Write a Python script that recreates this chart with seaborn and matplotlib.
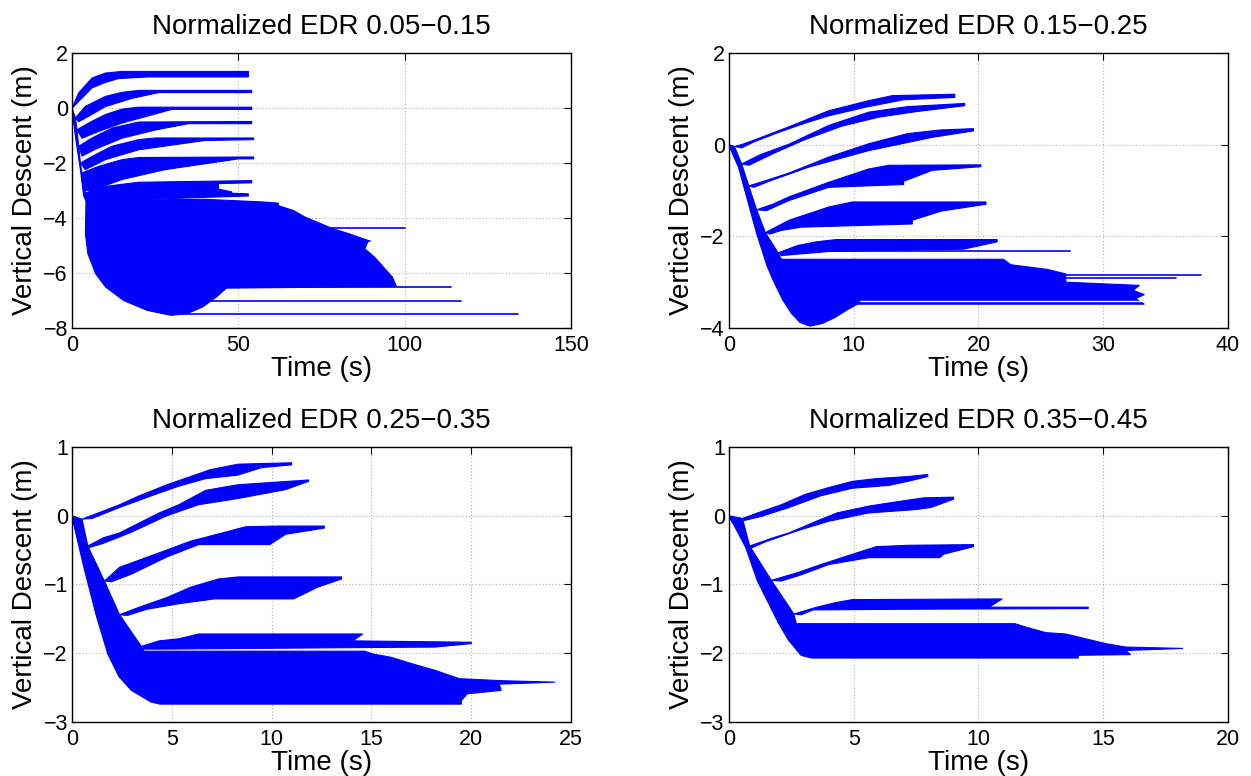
import numpy as np
import pandas as pd
import matplotlib
matplotlib.use("Agg")
import matplotlib.pyplot as plt
import seaborn as sns

# ---------------- data ----------------
TITLES = ["Normalized EDR 0.05\u22120.15", "Normalized EDR 0.15\u22120.25",
          "Normalized EDR 0.25\u22120.35", "Normalized EDR 0.35\u22120.45"]
XLIMS = [(0, 150), (0, 40), (0, 25), (0, 20)]
YLIMS = [(-8, 2), (-4, 2), (-3, 1), (-3, 1)]
XTICKS = [[0, 50, 100, 150], [0, 10, 20, 30, 40], [0, 5, 10, 15, 20, 25], [0, 5, 10, 15, 20]]
YTICKS = [[-8, -6, -4, -2, 0, 2], [-4, -2, 0, 2], [-3, -2, -1, 0, 1], [-3, -2, -1, 0, 1]]

# Panel 1 (EDR 0.05-0.15): outlines of trajectory bundles (time s, descent m)
TL_DESCENT = [(0, 0), (1, -0.36), (1.5, -0.79), (2, -1.39), (2.5, -2.0), (3, -2.36), (4, -3.09),
              (4.3, -3.4), (3.5, -3.2), (2.5, -2.24), (1, -1.03), (0, -0.05)]
TL_B1 = [(0, 0), (2, 0.55), (6, 1.09), (10, 1.27), (15, 1.33), (53, 1.33), (53, 1.13),
         (23, 1.13), (14, 1.07), (10, 0.93), (6, 0.73), (2, 0.24), (0.5, 0.05)]
TL_B2 = [(1, -0.36), (4, 0.06), (10, 0.42), (15, 0.57), (20, 0.64), (54, 0.64), (54, 0.56),
         (26, 0.56), (18, 0.35), (10, 0.05), (5, -0.3), (2, -0.5)]
TL_B3 = [(1.5, -0.79), (6, -0.48), (10, -0.24), (15, -0.04), (20, 0.03), (54, 0.03), (54, -0.05),
         (30, -0.05), (24, -0.25), (15, -0.55), (8, -0.85), (3, -1.1)]
TL_B4 = [(2, -1.39), (6, -1.09), (12, -0.73), (20, -0.51), (54, -0.49), (54, -0.57), (35, -0.57),
         (25, -0.8), (15, -1.1), (7, -1.5), (3, -1.75)]
TL_B5 = [(2.5, -2.0), (6, -1.76), (12, -1.39), (20, -1.15), (25, -1.09), (54.6, -1.09), (54.6, -1.15),
         (40, -1.18), (20, -1.52), (10, -1.88), (4, -2.24)]
TL_B6 = [(3, -2.36), (8, -2.12), (15, -1.88), (20, -1.8), (54.6, -1.78), (54.6, -1.85), (50, -1.85),
         (28, -2.24), (15, -2.6), (6, -3.0), (3.5, -3.0)]
TL_B7 = [(4, -3.09), (10, -2.85), (20, -2.7), (54, -2.64), (54, -2.72), (44, -2.75), (44, -2.95),
         (48, -3.05), (48, -3.1), (53, -3.12), (53, -3.2), (40, -3.25), (4.3, -3.4)]
TL_BLOB = [(4.2, -3.36), (40, -3.32), (58, -3.42), (62, -3.46), (62, -3.55), (66.6, -3.73), (70.1, -3.97),
           (73.7, -4.15), (78.4, -4.39), (83.2, -4.57), (89.1, -4.82), (88, -5.12), (90.9, -5.42),
           (92.7, -5.66), (94.5, -5.91), (96.3, -6.15), (97.5, -6.49), (46.4, -6.55), (43.4, -6.87),
           (39.2, -7.24), (34.5, -7.48), (29.7, -7.54), (22.6, -7.36), (15.5, -7.0), (10.1, -6.51),
           (7.1, -6.03), (4.75, -5.3), (4.0, -4.55)]
TL_TAILS = [[(68, -4.35), (100, -4.35)], [(80, -4.85), (89.7, -4.85)], [(46, -6.5), (114, -6.5)],
            [(40, -7.0), (117, -7.0)], [(33, -7.5), (134, -7.5)]]

# Panel 2 (EDR 0.15-0.25)
TR_DESCENT = [(0, 0), (0.44, -0.04), (1.02, -0.42), (1.59, -0.9), (2.22, -1.42), (2.92, -1.92),
              (3.94, -2.36), (4.2, -2.5), (4.35, -3.4), (3.08, -2.67), (2.22, -1.94), (0.76, -0.49), (0, -0.02)]
TR_B1 = [(0.44, -0.04), (1.0, 0.0), (2.5, 0.15), (4.8, 0.39), (8, 0.74), (11.2, 0.96), (13.1, 1.07),
         (18.1, 1.1), (18.1, 1.03), (14, 0.98), (11, 0.82), (8, 0.63), (6, 0.46), (4, 0.27), (2, 0.06), (1.02, -0.07)]
TR_B2 = [(1.02, -0.42), (2.5, -0.22), (4.8, 0.01), (8, 0.42), (11.2, 0.71), (14.3, 0.83), (18.9, 0.9),
         (18.9, 0.85), (15, 0.72), (12, 0.6), (9, 0.4), (6, 0.1), (3.5, -0.2), (1.6, -0.45)]
TR_B3 = [(1.59, -0.9), (3, -0.78), (4.8, -0.62), (8, -0.27), (11.2, 0.02), (14.3, 0.24), (16.9, 0.32),
         (19.6, 0.35), (19.6, 0.3), (16.3, 0.16), (11.2, -0.13), (6.4, -0.49), (3.2, -0.8), (2.0, -0.93)]
TR_B4 = [(2.22, -1.42), (3.5, -1.3), (4.8, -1.14), (8, -0.82), (11.2, -0.53), (12.8, -0.45), (20.2, -0.44),
         (20.2, -0.48), (16.3, -0.56), (14, -0.8), (14, -0.87), (8, -0.93), (4.8, -1.22), (3, -1.44)]
TR_B5 = [(2.92, -1.92), (4.8, -1.65), (8, -1.36), (9.9, -1.25), (20.6, -1.25), (20.6, -1.3), (17, -1.45),
         (14.7, -1.65), (14.7, -1.73), (5.8, -1.8), (4.2, -1.87), (3.3, -1.95)]
TR_B6 = [(3.94, -2.36), (5.5, -2.2), (7, -2.12), (8.6, -2.07), (21.5, -2.07), (21.5, -2.12),
         (18.8, -2.28), (8, -2.33), (4.2, -2.42)]
TR_BIG = [(4.0, -2.5), (22, -2.5), (22.6, -2.62), (25.5, -2.72), (27, -2.82), (27, -3.0), (32.9, -3.07),
          (32.4, -3.18), (33.3, -3.27), (32.6, -3.36), (33.3, -3.48), (10.3, -3.48), (9.5, -3.6),
          (8.5, -3.77), (7.5, -3.9), (6.5, -3.96), (5.7, -3.88), (5.0, -3.68), (4.35, -3.4),
          (3.7, -3.05), (3.3, -2.8)]
TR_TAILS = [[(6, -2.33), (27.3, -2.33)], [(25, -2.85), (37.8, -2.85)], [(25, -2.9), (35.8, -2.9)]]
TR_GAPS = [[(10.5, -3.42), (33, -3.42)]]

# Panel 3 (EDR 0.25-0.35)
BL_DESCENT = [(0, 0), (0.5, -0.05), (0.79, -0.44), (1.62, -0.95), (2.38, -1.44), (3.47, -1.9), (3.6, -1.97),
              (2.38, -2.35), (1.78, -2.0), (1.19, -1.43), (0.59, -0.75), (0.2, -0.27), (0, -0.02)]
BL_B1 = [(0.5, -0.05), (1.58, 0.07), (2.38, 0.16), (3.37, 0.29), (4.75, 0.45), (5.94, 0.57), (6.93, 0.67),
         (8.32, 0.75), (11, 0.77), (11, 0.74), (9.5, 0.70), (8.3, 0.59), (6.7, 0.54), (5.35, 0.43),
         (4.36, 0.33), (2.38, 0.12), (1, -0.04)]
BL_B2 = [(0.79, -0.44), (1.58, -0.32), (2.38, -0.25), (4.36, 0.04), (5.35, 0.16), (6.7, 0.37), (8.3, 0.45),
         (10.3, 0.49), (11.85, 0.52), (11.85, 0.5), (10.7, 0.38), (8.3, 0.25), (6.34, 0.16), (4.75, 0.0),
         (2.97, -0.24), (1.58, -0.4), (0.9, -0.46)]
BL_B3 = [(1.62, -0.95), (2.38, -0.75), (4.36, -0.54), (5.94, -0.37), (7.53, -0.25), (8.7, -0.16),
         (10.3, -0.15), (12.64, -0.15), (12.64, -0.18), (10.7, -0.27), (9.9, -0.42), (6.34, -0.42),
         (4.75, -0.6), (2.97, -0.85), (1.98, -0.96)]
BL_B4 = [(2.38, -1.44), (3.37, -1.33), (4.75, -1.19), (5.94, -1.04), (7.33, -0.92), (8.32, -0.89),
         (13.5, -0.89), (13.5, -0.92), (12.3, -1.04), (11.1, -1.21), (7.13, -1.21), (5.35, -1.28),
         (3.76, -1.36), (2.77, -1.45)]
BL_B5 = [(3.47, -1.9), (4.36, -1.82), (5.35, -1.79), (6.34, -1.72), (14.56, -1.72), (14.07, -1.82),
         (20, -1.84), (20, -1.86), (18.2, -1.91), (4.36, -1.94), (3.57, -1.94)]
BL_BIG = [(3.5, -1.97), (14.66, -1.97), (15.06, -2.01), (16, -2.06), (17, -2.15), (18.2, -2.25),
          (19.4, -2.37), (21.6, -2.4), (24.2, -2.42), (21.4, -2.45), (21.5, -2.54), (19.8, -2.59),
          (19.5, -2.69), (19.5, -2.74), (4.4, -2.74), (3.96, -2.71), (2.97, -2.54), (2.38, -2.35),
          (1.78, -2.0)]

# Panel 4 (EDR 0.35-0.45)
BR_DESCENT = [(0, 0), (0.54, -0.04), (0.83, -0.44), (1.7, -0.94), (2.6, -1.43), (2.7, -1.57),
              (2.41, -1.82), (1.94, -1.53), (1.14, -0.95), (0.67, -0.46), (0.19, -0.13), (0, -0.02)]
BR_B1 = [(0.54, -0.04), (1.14, 0.04), (2.1, 0.16), (3.05, 0.31), (4, 0.41), (4.95, 0.5), (5.9, 0.54),
         (7.17, 0.57), (7.97, 0.6), (7.97, 0.57), (7.17, 0.5), (6.4, 0.44), (4.95, 0.4), (3.68, 0.29),
         (2.41, 0.12), (1.3, -0.01), (0.6, -0.07)]
BR_B2 = [(0.83, -0.44), (1.78, -0.32), (2.41, -0.25), (3.37, -0.1), (4.32, 0.04), (5.6, 0.14),
         (6.86, 0.21), (7.8, 0.26), (9, 0.27), (9, 0.24), (8.1, 0.12), (7.5, 0.09), (5.6, 0.04),
         (4, -0.08), (2.73, -0.22), (1.46, -0.38), (0.9, -0.47)]
BR_B3 = [(1.7, -0.94), (2.73, -0.83), (3.68, -0.71), (4.95, -0.56), (5.9, -0.45), (7.17, -0.43),
         (9.8, -0.42), (9.8, -0.45), (8.6, -0.56), (8.45, -0.61), (5.6, -0.61), (4, -0.71),
         (2.89, -0.86), (2.1, -0.95)]
BR_B4 = [(2.6, -1.43), (3.52, -1.33), (4.32, -1.26), (4.95, -1.22), (10.95, -1.21), (10.43, -1.33),
         (14.4, -1.33), (14.4, -1.35), (7.17, -1.36), (3.37, -1.37), (2.9, -1.44)]
BR_BIG = [(2.6, -1.57), (11.46, -1.57), (11.9, -1.62), (12.7, -1.7), (13.5, -1.72), (14.3, -1.79),
          (15.1, -1.86), (15.9, -1.91), (18.2, -1.93), (15.9, -1.96), (16.1, -2.02), (14, -2.03),
          (14, -2.07), (3.3, -2.07), (2.89, -2.03), (2.41, -1.82), (1.94, -1.53)]

PANEL_POLYS = [
    [TL_DESCENT, TL_B1, TL_B2, TL_B3, TL_B4, TL_B5, TL_B6, TL_B7, TL_BLOB],
    [TR_DESCENT, TR_B1, TR_B2, TR_B3, TR_B4, TR_B5, TR_B6, TR_BIG],
    [BL_DESCENT, BL_B1, BL_B2, BL_B3, BL_B4, BL_B5, BL_BIG],
    [BR_DESCENT, BR_B1, BR_B2, BR_B3, BR_B4, BR_BIG],
]
PANEL_TAILS = [TL_TAILS, TR_TAILS, [], []]
PANEL_GAPS = [[], TR_GAPS, [], []]

# ---------------- styling ----------------
sns.set_style("white")
plt.rcParams["font.family"] = ["Liberation Sans", "DejaVu Sans"]
plt.rcParams["axes.unicode_minus"] = True
plt.rcParams["text.color"] = "black"
plt.rcParams["axes.labelcolor"] = "black"
plt.rcParams["xtick.color"] = "black"
plt.rcParams["ytick.color"] = "black"

BLUE = "#0000ff"
fig = plt.figure(figsize=(12.51, 7.76), dpi=100)
positions = [[0.0576, 0.5773, 0.3989, 0.3544], [0.5827, 0.5773, 0.3989, 0.3544],
             [0.0576, 0.0696, 0.3989, 0.3544], [0.5827, 0.0696, 0.3989, 0.3544]]


def seg_frame(segs):
    rows = []
    for k, seg in enumerate(segs):
        for i, (t, y) in enumerate(seg):
            rows.append({"t": t, "y": y, "seg": k, "order": i})
    return pd.DataFrame(rows)


for p in range(4):
    ax = fig.add_axes(positions[p])
    ax.set_axisbelow(True)
    ax.grid(True, color="#b0b0b0", linestyle=(0, (1, 2)), linewidth=0.8)
    for poly in PANEL_POLYS[p]:
        arr = np.array(poly, dtype=float)
        ax.fill(arr[:, 0], arr[:, 1], color=BLUE, linewidth=0.8, edgecolor=BLUE, zorder=2)
    if PANEL_TAILS[p]:
        df = seg_frame(PANEL_TAILS[p])
        sns.lineplot(data=df, x="t", y="y", units="seg", estimator=None, sort=False,
                     color=BLUE, linewidth=1.2, ax=ax, legend=False, zorder=3)
    if PANEL_GAPS[p]:
        df = seg_frame(PANEL_GAPS[p])
        sns.lineplot(data=df, x="t", y="y", units="seg", estimator=None, sort=False,
                     color="white", linewidth=1.0, ax=ax, legend=False, zorder=4)
    ax.set_xlim(*XLIMS[p])
    ax.set_ylim(*YLIMS[p])
    ax.set_xticks(XTICKS[p])
    ax.set_yticks(YTICKS[p])
    ax.tick_params(direction="in", length=5, width=0.8, top=True, right=True,
                   labelsize=15.5, colors="black")
    ax.tick_params(axis="x", pad=5)
    ax.tick_params(axis="y", pad=3)
    for s in ax.spines.values():
        s.set_color("black")
        s.set_linewidth(1.0)
    ax.set_xlabel("Time (s)", fontsize=20, labelpad=0, color="black")
    ax.set_ylabel("Vertical Descent (m)", fontsize=20, labelpad=4, color="black")
    ax.set_title(TITLES[p], fontsize=20, pad=14, color="black")

fig.savefig("out.png", dpi=100)
